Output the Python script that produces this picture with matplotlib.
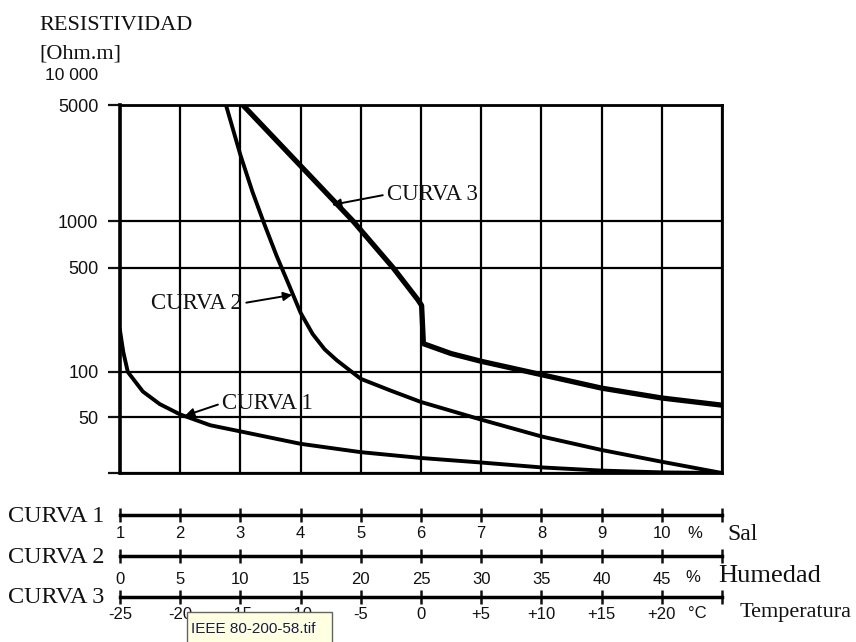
import numpy as np
import matplotlib
matplotlib.use("Agg")
import matplotlib.pyplot as plt
from matplotlib.ticker import NullLocator
from matplotlib.patches import Rectangle

# ---------------- data ----------------
sal_pct = [1.0, 1.055, 1.13, 1.38, 1.66, 2.0, 2.5, 3.0, 4.0, 5.0, 6.0, 7.0, 8.0, 9.0, 10.0, 11.0]
res_curva1 = [190, 136, 100, 74, 61, 52, 44, 40, 33, 29, 26.5, 24.7, 22.9, 21.8, 21.2, 21]

humedad_pct = [8.8, 10, 11, 12, 13, 14, 15, 16, 17, 18, 20, 22.5, 25, 30, 35, 40, 45, 50]
res_curva2 = [5000, 2500, 1500, 950, 600, 390, 250, 180, 142, 120, 90, 75, 63, 48, 37, 30, 25, 21]

temp_c = [-14.8, -5.65, -2.3, -0.25, 0.05, 0.2, 2.5, 5, 10, 15, 20, 25]
res_curva3 = [5000, 1000, 500, 305, 280, 155, 133, 118, 96, 78, 67, 60]

y_ticks = [21, 50, 100, 500, 1000, 5000]
y_labels = ["", "50", "100", "500", "1000", "5000"]

sal_ticks = [1, 2, 3, 4, 5, 6, 7, 8, 9, 10, 11]
sal_labels = ["1", "2", "3", "4", "5", "6", "7", "8", "9", "10", ""]
hum_ticks = [0, 5, 10, 15, 20, 25, 30, 35, 40, 45, 50]
hum_labels = ["0", "5", "10", "15", "20", "25", "30", "35", "40", "45", ""]
temp_ticks = [-25, -20, -15, -10, -5, 0, 5, 10, 15, 20, 25]
temp_labels = ["-25", "-20", "-15", "-10", "-5", "0", "+5", "+10", "+15", "+20", ""]

# calibration of the (slightly uneven) printed logarithmic axis:
# log10 of the grid values and their relative height on the sheet
SCAN_LOG = np.log10([21, 50, 100, 500, 1000, 5000])
SCAN_POS = np.array([0, 56, 101, 205, 252, 368], float)


def _lin(x, xp, fp):
    x = np.asarray(x, float)
    y = np.interp(x, xp, fp)
    y = np.where(x < xp[0], fp[0] + (x - xp[0]) * (fp[1] - fp[0]) / (xp[1] - xp[0]), y)
    y = np.where(x > xp[-1], fp[-1] + (x - xp[-1]) * (fp[-1] - fp[-2]) / (xp[-1] - xp[-2]), y)
    return y


def fwd(v):
    return _lin(np.log10(np.maximum(np.asarray(v, float), 1e-12)), SCAN_LOG, SCAN_POS)


def inv(p):
    return 10 ** _lin(p, SCAN_POS, SCAN_LOG)


# ---------------- figure ----------------
plt.rcParams["font.family"] = ["Liberation Sans", "DejaVu Sans"]
W, H = 856, 642
fig = plt.figure(figsize=(W / 100, H / 100), dpi=100)
fig.patch.set_facecolor("white")


def fx(x):
    return x / W


def fy(y):
    return 1 - y / H


SERIF = ["Liberation Serif", "DejaVu Serif"]
INK = "#111111"

L, R, T, B = 120, 722, 105, 473
ax = fig.add_axes([fx(L), fy(B), fx(R) - fx(L), fy(T) - fy(B)])
ax.set_yscale("function", functions=(fwd, inv))
ax.set_xlim(1, 11)
ax.set_ylim(21, 5000)
ax.set_xticks(sal_ticks)
ax.tick_params(axis="x", length=0, labelbottom=False)
ax.set_yticks(y_ticks, y_labels)
ax.yaxis.set_minor_locator(NullLocator())
ax.tick_params(axis="y", length=8.5, width=1.6, pad=7, labelsize=13, colors=INK)
ax.grid(True, color="black", lw=1.6)
ax.set_axisbelow(True)
for s in ax.spines.values():
    s.set_linewidth(2.0)
    s.set_color("black")
ax.spines["left"].set_linewidth(2.6)

ax2 = ax.twiny()
ax2.set_xlim(0, 50)
ax2.axis("off")
ax3 = ax.twiny()
ax3.set_xlim(-25, 25)
ax3.axis("off")

ax.plot(sal_pct, res_curva1, color="black", lw=2.8, solid_joinstyle="round", zorder=5)
ax2.plot(humedad_pct, res_curva2, color="black", lw=2.8, solid_joinstyle="round", zorder=5)
ax3.plot(temp_c, res_curva3, color="black", lw=3.8, solid_joinstyle="round", zorder=5)

arrow = dict(arrowstyle="-|>", color="black", lw=1.4, mutation_scale=13,
             shrinkA=1, shrinkB=0)
ax3.annotate("CURVA 3", xy=(-7.4, 1250), xytext=(55, 5), textcoords="offset pixels",
             ha="left", va="baseline", family=SERIF, size=16.5, color=INK,
             arrowprops=dict(arrow, relpos=(0, 0.5)))
ax2.annotate("CURVA 2", xy=(14.3, 330), xytext=(-50, -14), textcoords="offset pixels",
             ha="right", va="baseline", family=SERIF, size=16.5, color=INK,
             arrowprops=dict(arrow, relpos=(1, 0.5)))
ax.annotate("CURVA 1", xy=(2.08, 51), xytext=(37, 7), textcoords="offset pixels",
            ha="left", va="baseline", family=SERIF, size=16.5, color=INK,
            arrowprops=dict(arrow, relpos=(0, 0.5)))

# header texts
fig.text(fx(39), fy(30), "RESISTIVIDAD", ha="left", va="baseline", family=SERIF, size=16, color=INK)
fig.text(fx(39), fy(58), "[Ohm.m]", ha="left", va="baseline", family=SERIF, size=16, color=INK)
fig.text(fx(98), fy(75), "10 000", ha="right", va="center", size=12.5, color=INK)


# bottom scales
def scale_axes(yline, lo, hi, ticks, labels, pad):
    a = fig.add_axes([fx(L), fy(yline), fx(R) - fx(L), 0.001])
    a.set_xlim(lo, hi)
    a.set_ylim(0, 1)
    a.patch.set_visible(False)
    for s in ["top", "left", "right"]:
        a.spines[s].set_visible(False)
    a.spines["bottom"].set_linewidth(2.5)
    a.set_yticks([])
    a.set_xticks(ticks, labels)
    a.tick_params(axis="x", direction="inout", length=10, width=1.8, pad=pad,
                  labelsize=12, colors=INK)
    return a


scale_axes(515, 1, 11, sal_ticks, sal_labels, 3)
scale_axes(556, 0, 50, hum_ticks, hum_labels, 6.5)
scale_axes(597, -25, 25, temp_ticks, temp_labels, 2.5)

fig.text(fx(104), fy(522), "CURVA 1", ha="right", va="baseline", family=SERIF, size=17.5, color=INK)
fig.text(fx(104), fy(563), "CURVA 2", ha="right", va="baseline", family=SERIF, size=17.5, color=INK)
fig.text(fx(104), fy(603), "CURVA 3", ha="right", va="baseline", family=SERIF, size=17.5, color=INK)

fig.text(fx(695), fy(533), "%", ha="center", va="center", size=12, color=INK)
fig.text(fx(693), fy(578), "%", ha="center", va="center", size=12, color=INK)
fig.text(fx(697), fy(614), "°C", ha="center", va="center", size=12, color=INK)

fig.text(fx(727), fy(540), "Sal", ha="left", va="baseline", family=SERIF, size=17, color=INK)
fig.text(fx(718), fy(582), "Humedad", ha="left", va="baseline", family=SERIF, size=19, color=INK)
fig.text(fx(740), fy(617), "Temperatura", ha="left", va="baseline", family=SERIF, size=16, color=INK)

# file-name tooltip present in the source screenshot
fig.patches.append(Rectangle((fx(187), fy(644)), fx(332) - fx(187), fy(612) - fy(644),
                             transform=fig.transFigure, fc="#ffffe1", ec="#646464",
                             lw=1, zorder=10))
fig.text(fx(191), fy(629), "IEEE 80-200-58.tif", ha="left", va="center", size=11,
         color="#1c1c44", zorder=11)

fig.savefig("out.png", dpi=100)
